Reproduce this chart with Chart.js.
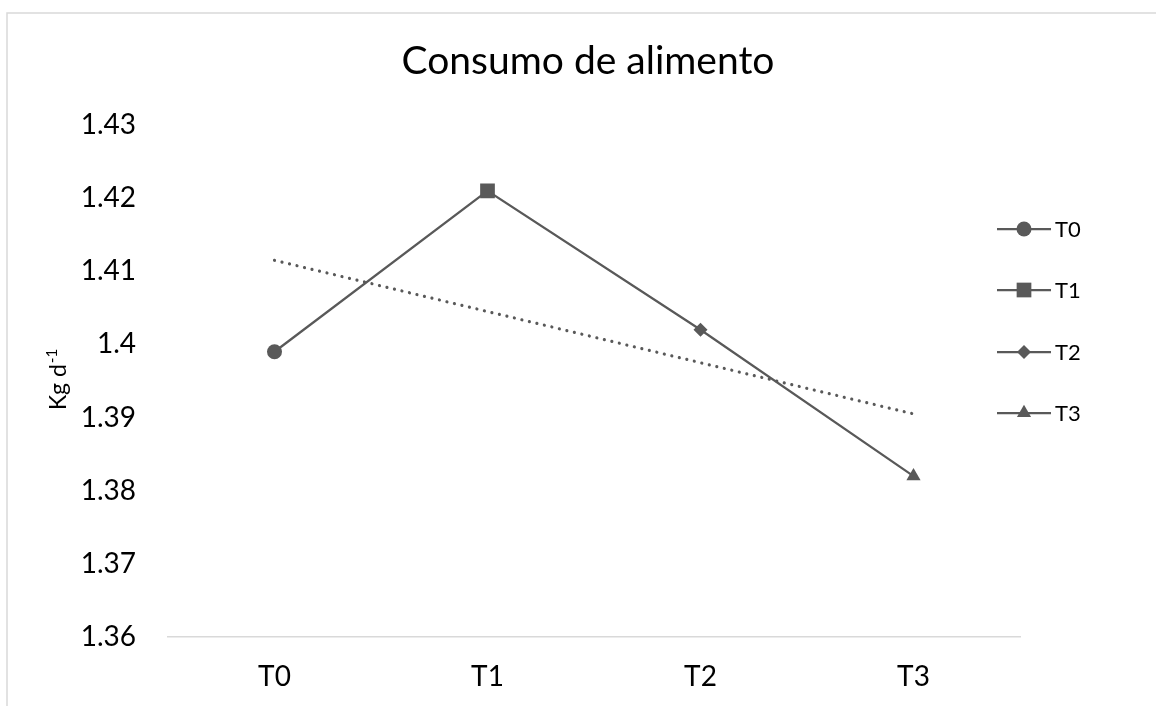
<!DOCTYPE html>
<html>
<head>
<meta charset="utf-8">
<script src="https://cdn.jsdelivr.net/npm/chart.js@4/dist/chart.umd.min.js"></script>
<style>
  html, body { margin: 0; padding: 0; background: #ffffff; }
  #wrap { position: relative; width: 1156px; height: 706px; }
</style>
</head>
<body>
<div id="wrap"><canvas id="c" width="1156" height="706"></canvas></div>
<script>
// Treatments and mean feed intake (kg per day)
const categories = ['T0', 'T1', 'T2', 'T3'];
const consumo = [1.399, 1.421, 1.402, 1.382];
// Linear trend of the intake across treatments
const tendencia = [1.4115, 1.4045, 1.3975, 1.3905];
// Value axis ticks
const yTickValues = [1.36, 1.37, 1.38, 1.39, 1.40, 1.41, 1.42, 1.43];
const yTickLabels = ['1.36', '1.37', '1.38', '1.39', '1.4', '1.41', '1.42', '1.43'];
// Legend entries: one per treatment marker
const legendNames = ['T0', 'T1', 'T2', 'T3'];

const GRAY = '#595959';
const FONT = 'Lato';
const markerStyles = ['circle', 'rect', 'rectRot', 'triangle'];
const markerRadius = [7.5, 10.4, 7, 8.2];

const framePlugin = {
  id: 'frame',
  beforeDraw(chart) {
    const ctx = chart.ctx;
    ctx.save();
    ctx.fillStyle = '#ffffff';
    ctx.fillRect(0, 0, chart.width, chart.height);
    ctx.strokeStyle = '#d9d9d9';
    ctx.lineWidth = 1.5;
    ctx.beginPath();
    ctx.moveTo(7, chart.height);
    ctx.lineTo(7, 13);
    ctx.lineTo(chart.width, 13);
    ctx.stroke();
    ctx.restore();
  }
};

const textPlugin = {
  id: 'texts',
  afterDraw(chart) {
    const ctx = chart.ctx;
    ctx.save();
    // Title
    ctx.fillStyle = '#000000';
    ctx.font = '39px ' + FONT;
    ctx.textAlign = 'center';
    ctx.textBaseline = 'alphabetic';
    ctx.fillText('Consumo de alimento', 588, 74);

    // Value axis title: Kg d^-1
    ctx.translate(66, 380);
    ctx.rotate(-Math.PI / 2);
    const main = 'Kg d';
    ctx.font = '23px ' + FONT;
    const wMain = ctx.measureText(main).width;
    ctx.font = '15px ' + FONT;
    const wSup = ctx.measureText('-1').width;
    const start = -(wMain + wSup) / 2;
    ctx.textAlign = 'left';
    ctx.font = '23px ' + FONT;
    ctx.fillText(main, start, 0);
    ctx.font = '15px ' + FONT;
    ctx.fillText('-1', start + wMain + 1, -9);
    ctx.restore();

    // Legend: line with marker and treatment name
    ctx.save();
    const x0 = 997, x1 = 1051;
    const rows = [229, 290, 352, 413];
    legendNames.forEach((name, i) => {
      const y = rows[i];
      ctx.strokeStyle = GRAY;
      ctx.lineWidth = 2.25;
      ctx.beginPath();
      ctx.moveTo(x0, y);
      ctx.lineTo(x1, y);
      ctx.stroke();
      ctx.fillStyle = GRAY;
      Chart.helpers.drawPoint(ctx, {
        pointStyle: markerStyles[i],
        radius: markerRadius[i],
        rotation: 0,
        borderWidth: 0
      }, (x0 + x1) / 2, y);
      ctx.fillStyle = '#000000';
      ctx.font = '22px ' + FONT;
      ctx.textAlign = 'left';
      ctx.textBaseline = 'middle';
      ctx.fillText(name, 1055, y + 1);
    });
    ctx.restore();
  }
};

new Chart(document.getElementById('c'), {
  type: 'line',
  data: {
    labels: categories,
    datasets: [
      {
        label: 'Consumo',
        data: consumo,
        borderColor: GRAY,
        backgroundColor: GRAY,
        borderWidth: 2.25,
        pointStyle: markerStyles,
        pointRadius: markerRadius,
        pointHoverRadius: markerRadius,
        pointBorderWidth: 0,
        pointBackgroundColor: GRAY,
        tension: 0,
        order: 1
      },
      {
        label: 'Tendencia',
        data: tendencia,
        borderColor: GRAY,
        borderWidth: 3.2,
        borderDash: [0.01, 7.7],
        borderCapStyle: 'round',
        pointRadius: 0,
        tension: 0,
        order: 2
      }
    ]
  },
  options: {
    responsive: false,
    animation: false,
    events: [],
    layout: { padding: { left: 0, right: 136, top: 125, bottom: 0 } },
    plugins: {
      legend: { display: false },
      title: { display: false },
      tooltip: { enabled: false }
    },
    scales: {
      x: {
        offset: true,
        grid: { display: false, drawTicks: false },
        border: { display: true, color: '#d9d9d9', width: 1.5 },
        ticks: { color: '#000000', font: { family: FONT, size: 28 }, padding: 23 },
        afterFit(scale) { scale.height = 69; }
      },
      y: {
        min: 1.36,
        max: 1.43,
        grid: { display: false, drawTicks: false },
        border: { display: false },
        afterBuildTicks(scale) { scale.ticks = yTickValues.map(v => ({ value: v })); },
        ticks: {
          color: '#000000',
          font: { family: FONT, size: 28 },
          padding: 32,
          callback: (v, i) => yTickLabels[i]
        },
        afterFit(scale) { scale.width = 168; }
      }
    }
  },
  plugins: [framePlugin, textPlugin]
});
</script>
</body>
</html>
